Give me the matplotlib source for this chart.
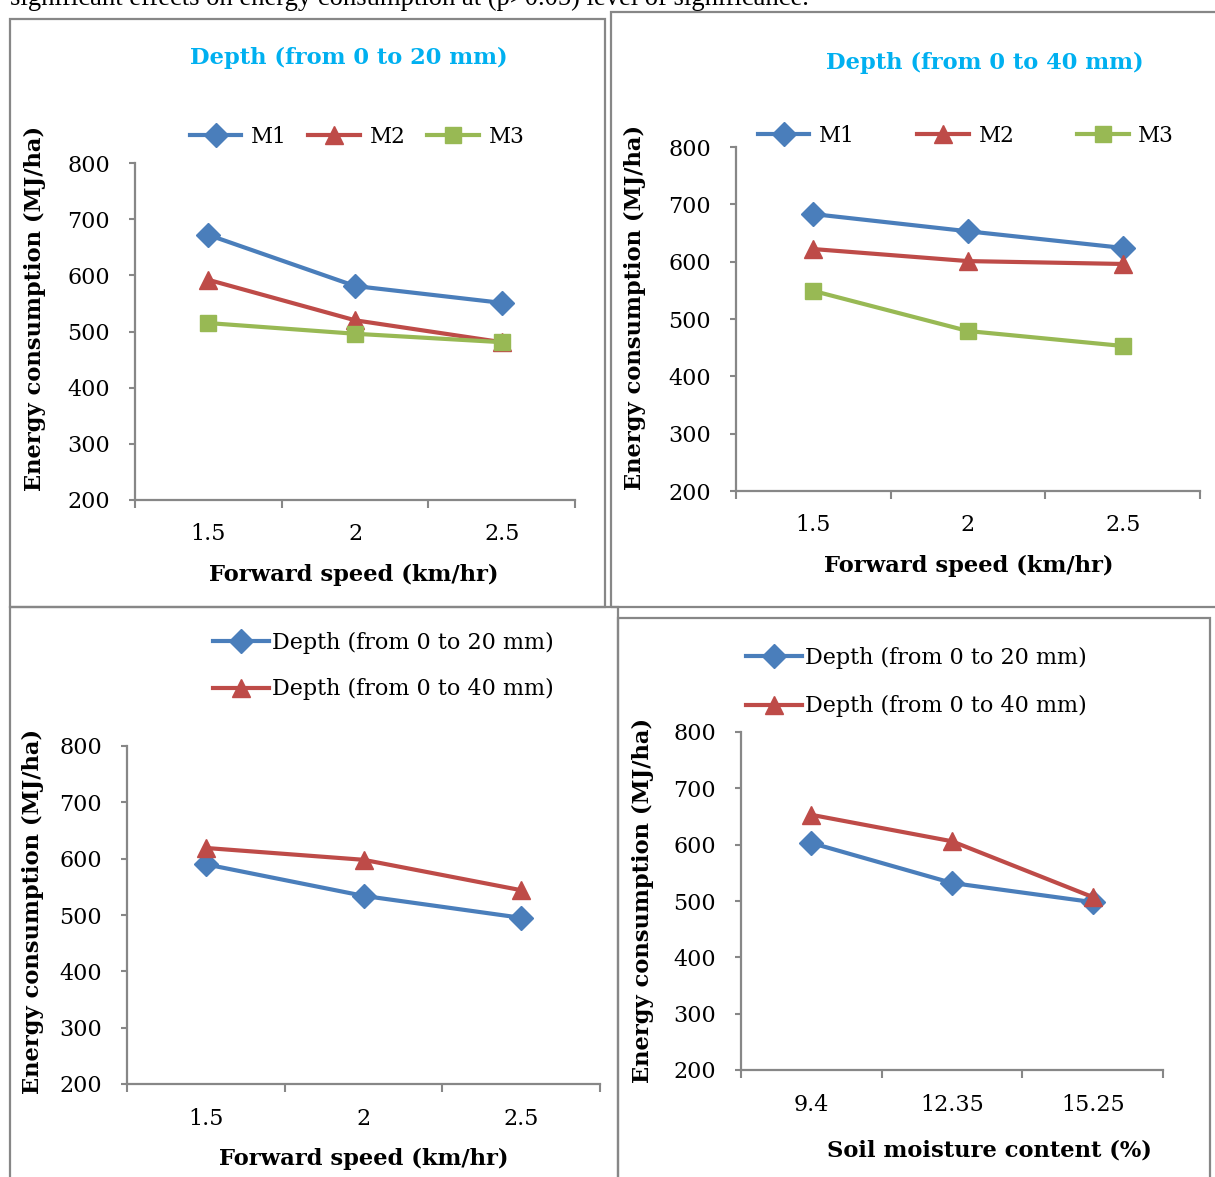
import matplotlib
matplotlib.use("Agg")
import matplotlib.pyplot as plt
from matplotlib.patches import Rectangle
from matplotlib.ticker import FixedLocator, NullFormatter, FixedFormatter

plt.rcParams['font.family'] = ['DejaVu Serif']

W, H = 1215, 1177

# ---------------- data ----------------
speed_labels = ["1.5", "2", "2.5"]
moisture_labels = ["9.4", "12.35", "15.25"]

d20_M1 = [672, 581, 551]
d20_M2 = [592, 520, 481]
d20_M3 = [515, 496, 481]

d40_M1 = [683, 653, 624]
d40_M2 = [622, 601, 596]
d40_M3 = [549, 479, 453]

speed_d20 = [590, 534, 495]
speed_d40 = [619, 598, 544]

moist_d20 = [603, 532, 498]
moist_d40 = [653, 606, 507]

yticks = [200, 300, 400, 500, 600, 700, 800]

BLUE = "#4A7EBB"
RED = "#BE4B48"
GREEN = "#98B954"
GRAY = "#878787"
TITLE_C = "#00B0F0"

fig = plt.figure(figsize=(W / 100, H / 100), dpi=100)


def fx(x):
    return x / W


def fy(y):
    return 1 - y / H


def make_ax(L, R, T, B):
    return fig.add_axes([fx(L), fy(B), (R - L) / W, (B - T) / H])


def style_ax(ax, xlabels, L, R, T, B, ylab_x, ylab_y, xlab_x, xlab_y, xtl_y, xlabel):
    ax.set_ylim(200, 800)
    ax.set_xlim(0, 3)
    for s in ["top", "right"]:
        ax.spines[s].set_visible(False)
    for s in ["left", "bottom"]:
        ax.spines[s].set_color(GRAY)
        ax.spines[s].set_linewidth(1.6)
    ax.set_yticks(yticks)
    ax.tick_params(axis="y", direction="out", length=4, width=1.5, color=GRAY,
                   labelsize=16, pad=14)
    ax.xaxis.set_major_locator(FixedLocator([0, 1, 2, 3]))
    ax.xaxis.set_major_formatter(NullFormatter())
    ax.xaxis.set_minor_locator(FixedLocator([0.5, 1.5, 2.5]))
    ax.xaxis.set_minor_formatter(FixedFormatter(xlabels))
    ax.tick_params(axis="x", which="major", direction="out", length=6, width=1.5, color=GRAY)
    pad_px = xtl_y - B - 10
    ax.tick_params(axis="x", which="minor", length=0, labelsize=16, pad=pad_px * 0.72)
    ax.set_ylabel("Energy consumption (MJ/ha)", fontsize=16.3, fontweight="bold")
    ax.yaxis.set_label_coords((ylab_x - L) / (R - L), (B - ylab_y) / (B - T))
    ax.yaxis.label.set_va("center")
    ax.yaxis.label.set_ha("center")
    ax.set_xlabel(xlabel, fontsize=16.3, fontweight="bold")
    ax.xaxis.set_label_coords((xlab_x - L) / (R - L), (B - xlab_y) / (B - T))
    ax.xaxis.label.set_va("center")
    ax.xaxis.label.set_ha("center")


xs = [0.5, 1.5, 2.5]
lw = 3.0
MS_D, MS_T, MS_S = 12.5, 12.5, 11

# ---------------- panel 1 ----------------
L, R, T, B = 135, 575, 163, 500
ax1 = make_ax(L, R, T, B)
ax1.plot(xs, d20_M1, color=BLUE, lw=lw, marker="D", ms=MS_D, label="M1")
ax1.plot(xs, d20_M2, color=RED, lw=lw, marker="^", ms=MS_T, label="M2")
ax1.plot(xs, d20_M3, color=GREEN, lw=lw, marker="s", ms=MS_S, label="M3")
style_ax(ax1, speed_labels, L, R, T, B, 35, 308, 354, 575, 533, "Forward speed (km/hr)")
fig.text(fx(349), fy(58), "Depth (from 0 to 20 mm)", color=TITLE_C, fontsize=16.3,
         fontweight="bold", ha="center", va="center")
ax1.legend(loc="center", bbox_to_anchor=(fx(357), fy(137)), bbox_transform=fig.transFigure,
           ncol=3, frameon=False, fontsize=15.5, handlelength=2.4, handletextpad=0.45,
           columnspacing=1.0, borderpad=0, borderaxespad=0)

# ---------------- panel 2 ----------------
L, R, T, B = 736, 1200, 147, 491
ax2 = make_ax(L, R, T, B)
ax2.plot(xs, d40_M1, color=BLUE, lw=lw, marker="D", ms=MS_D, label="M1")
ax2.plot(xs, d40_M2, color=RED, lw=lw, marker="^", ms=MS_T, label="M2")
ax2.plot(xs, d40_M3, color=GREEN, lw=lw, marker="s", ms=MS_S, label="M3")
style_ax(ax2, speed_labels, L, R, T, B, 635, 307, 969, 566, 524, "Forward speed (km/hr)")
fig.text(fx(985), fy(63), "Depth (from 0 to 40 mm)", color=TITLE_C, fontsize=16.3,
         fontweight="bold", ha="center", va="center")
ax2.legend(loc="center", bbox_to_anchor=(fx(966), fy(136)), bbox_transform=fig.transFigure,
           ncol=3, frameon=False, fontsize=15.5, handlelength=2.4, handletextpad=0.45,
           columnspacing=2.9, borderpad=0, borderaxespad=0)

# ---------------- panel 3 ----------------
L, R, T, B = 127, 600, 746, 1084
ax3 = make_ax(L, R, T, B)
ax3.plot(xs, speed_d20, color=BLUE, lw=lw, marker="D", ms=MS_D, label="Depth (from 0 to 20 mm)")
ax3.plot(xs, speed_d40, color=RED, lw=lw, marker="^", ms=MS_T, label="Depth (from 0 to 40 mm)")
style_ax(ax3, speed_labels, L, R, T, B, 33, 911, 364, 1159, 1118, "Forward speed (km/hr)")
ax3.legend(loc="center left", bbox_to_anchor=(fx(213), fy(666)), bbox_transform=fig.transFigure,
           ncol=1, frameon=False, fontsize=16, handlelength=2.5, handletextpad=0.15,
           labelspacing=1.1, borderpad=0, borderaxespad=0)

# ---------------- panel 4 ----------------
L, R, T, B = 741, 1163, 732, 1070
ax4 = make_ax(L, R, T, B)
ax4.plot(xs, moist_d20, color=BLUE, lw=lw, marker="D", ms=MS_D, label="Depth (from 0 to 20 mm)")
ax4.plot(xs, moist_d40, color=RED, lw=lw, marker="^", ms=MS_T, label="Depth (from 0 to 40 mm)")
style_ax(ax4, moisture_labels, L, R, T, B, 643, 900, 989, 1150, 1104, "Soil moisture content (%)")
ax4.legend(loc="center left", bbox_to_anchor=(fx(746), fy(682)), bbox_transform=fig.transFigure,
           ncol=1, frameon=False, fontsize=16, handlelength=2.5, handletextpad=0.15,
           labelspacing=1.2, borderpad=0, borderaxespad=0)

# ---------------- panel boxes ----------------
def box(x0, y0, x1, y1):
    fig.add_artist(Rectangle((fx(x0), fy(y1)), (x1 - x0) / W, (y1 - y0) / H,
                             transform=fig.transFigure, fill=False,
                             edgecolor=GRAY, lw=1.6, clip_on=False))


box(10, 19, 605, 607)
box(611, 12, 1230, 607)
box(10, 607, 618, 1200)
box(618, 618, 1210, 1200)

# cut-off caption text at top
fig.text(fx(10), fy(5), "significant effects on energy consumption at (p>0.05) level of significance.",
         fontsize=19.2, family="Liberation Serif", ha="left", va="baseline")

fig.savefig("out.png", dpi=100)
